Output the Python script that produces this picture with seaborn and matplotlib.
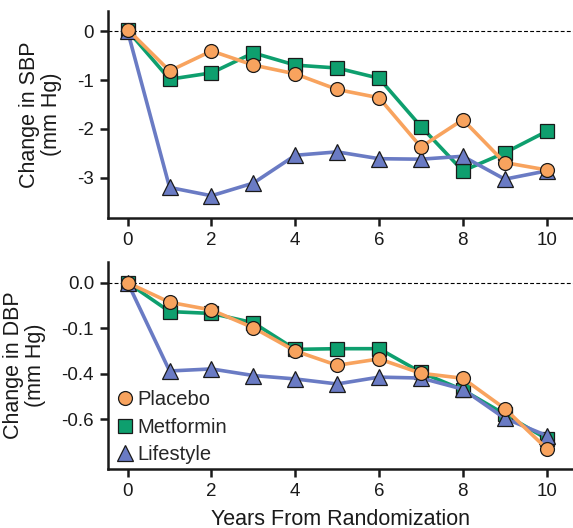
import numpy as np
import pandas as pd
import seaborn as sns
import matplotlib
matplotlib.use("Agg")
import matplotlib.pyplot as plt
from matplotlib.lines import Line2D

# ---- data ----
years = [0, 1, 2, 3, 4, 5, 6, 7, 8, 9, 10]
groups = ["Placebo", "Metformin", "Lifestyle"]

sbp_placebo = [0.04, -0.81, -0.40, -0.69, -0.87, -1.19, -1.36, -2.37, -1.81, -2.69, -2.84]
sbp_metformin = [0.02, -0.98, -0.85, -0.44, -0.69, -0.75, -0.96, -1.95, -2.86, -2.49, -2.05]
sbp_lifestyle = [0.0, -3.20, -3.37, -3.11, -2.54, -2.47, -2.61, -2.62, -2.56, -3.03, -2.86]

dbp_placebo = [0.0, -0.086, -0.12, -0.198, -0.30, -0.363, -0.335, -0.398, -0.42, -0.553, -0.729]
dbp_metformin = [0.0, -0.127, -0.135, -0.176, -0.293, -0.29, -0.29, -0.394, -0.471, -0.578, -0.686]
dbp_lifestyle = [0.0, -0.388, -0.379, -0.408, -0.423, -0.445, -0.415, -0.419, -0.468, -0.596, -0.672]

sbp_ticks = [0, -1, -2, -3]
sbp_ticklabels = ["0", "-1", "-2", "-3"]
dbp_ticks = [0.0, -0.2, -0.4, -0.6]
dbp_ticklabels = ["0.0", "-0.1", "-0.4", "-0.6"]
x_ticks = [0, 2, 4, 6, 8, 10]

colors = {"Placebo": "#F8A35E", "Metformin": "#0E9F6E", "Lifestyle": "#6A7BC4"}
markers = {"Placebo": "o", "Metformin": "s", "Lifestyle": "^"}
msizes = {"Placebo": 10, "Metformin": 9.5, "Lifestyle": 11}
draw_order = ["Metformin", "Lifestyle", "Placebo"]


def long_df(p, m, l):
    rows = []
    for g, vals in zip(groups, [p, m, l]):
        for x, v in zip(years, vals):
            rows.append({"year": x, "value": v, "group": g})
    return pd.DataFrame(rows)


sbp_df = long_df(sbp_placebo, sbp_metformin, sbp_lifestyle)
dbp_df = long_df(dbp_placebo, dbp_metformin, dbp_lifestyle)

sns.set_style("ticks")
plt.rcParams["font.family"] = ["Liberation Sans", "DejaVu Sans"]
plt.rcParams["axes.unicode_minus"] = False

fig = plt.figure(figsize=(5.73, 5.28), dpi=100)
ax1 = fig.add_axes([0.1885, 0.5877, 0.8115, 0.3915])
ax2 = fig.add_axes([0.1885, 0.1112, 0.8115, 0.3926])

TXT = "#1a1a1a"


def draw(ax, df):
    for g in draw_order:
        sub = df[df["group"] == g]
        sns.lineplot(data=sub, x="year", y="value", ax=ax, color=colors[g],
                     marker=markers[g], markersize=msizes[g], markeredgecolor=TXT,
                     markeredgewidth=0.9, linewidth=2.6, legend=False)
    ax.axhline(0, color="black", lw=0.8, ls=(0, (3.5, 2)), zorder=0)
    sns.despine(ax=ax)
    for s in ["left", "bottom"]:
        ax.spines[s].set_linewidth(1.8)
        ax.spines[s].set_color(TXT)
    ax.tick_params(axis="both", length=6, width=1.8, labelsize=13.5, color=TXT,
                   labelcolor=TXT, pad=4)
    ax.set_xlim(-0.47, 10.63)
    ax.set_xticks(x_ticks)
    ax.set_xticklabels([str(t) for t in x_ticks])


draw(ax1, sbp_df)
ax1.set_ylim(-3.82, 0.42)
ax1.set_yticks(sbp_ticks)
ax1.set_yticklabels(sbp_ticklabels)
ax1.set_xlabel("")
ax1.set_ylabel("Change in SBP\n(mm Hg)", fontsize=15.5, color=TXT, labelpad=11,
               linespacing=1.05)

draw(ax2, dbp_df)
ax2.set_ylim(-0.82, 0.091)
ax2.set_yticks(dbp_ticks)
ax2.set_yticklabels(dbp_ticklabels)
ax2.set_xlabel("Years From Randomization", fontsize=15.5, color=TXT, labelpad=6)
ax2.set_ylabel("Change in DBP\n(mm Hg)", fontsize=15.5, color=TXT, labelpad=11,
               linespacing=1.05)

handles = [Line2D([], [], linestyle="none", marker=markers[g], markersize=msizes[g],
                  markerfacecolor=colors[g], markeredgecolor=TXT, markeredgewidth=0.9)
           for g in groups]
ax2.legend(handles, groups, loc="lower left", bbox_to_anchor=(0.0, -0.025), frameon=False,
           fontsize=14.5, handlelength=0.7, handletextpad=0.25, labelspacing=0.42,
           borderaxespad=0.1)

fig.savefig("out.png", dpi=100)
